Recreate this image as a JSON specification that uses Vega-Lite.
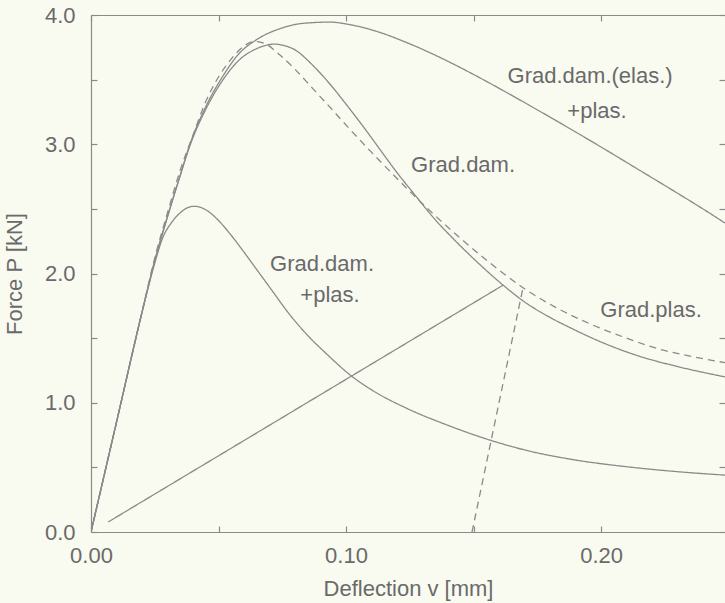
{
  "$schema": "https://vega.github.io/schema/vega-lite/v6.json",
  "width": 634,
  "height": 517,
  "autosize": {"type": "none"},
  "padding": {"left": 91, "top": 15, "right": 0, "bottom": 71},
  "background": "#f9fbf1",
  "config": {
    "view": {"stroke": null},
    "font": "Liberation Sans",
    "axis": {
      "grid": false,
      "domainColor": "#8a8a8a",
      "domainWidth": 1.2,
      "tickColor": "#8a8a8a",
      "tickWidth": 1.2,
      "labelColor": "#6a6a6a",
      "titleColor": "#6a6a6a",
      "labelFont": "Liberation Sans",
      "titleFont": "Liberation Sans",
      "labelFontSize": 22,
      "titleFontSize": 22,
      "titleFontWeight": "normal"
    }
  },
  "datasets": {
    "curves": [
      {"curve": "Grad.dam.(elas.)+plas.", "v": 0, "P": 0},
      {"curve": "Grad.dam.(elas.)+plas.", "v": 0.01, "P": 0.85},
      {"curve": "Grad.dam.(elas.)+plas.", "v": 0.02, "P": 1.70},
      {"curve": "Grad.dam.(elas.)+plas.", "v": 0.025, "P": 2.10},
      {"curve": "Grad.dam.(elas.)+plas.", "v": 0.03, "P": 2.44},
      {"curve": "Grad.dam.(elas.)+plas.", "v": 0.035, "P": 2.76},
      {"curve": "Grad.dam.(elas.)+plas.", "v": 0.0388, "P": 3.0},
      {"curve": "Grad.dam.(elas.)+plas.", "v": 0.045, "P": 3.29},
      {"curve": "Grad.dam.(elas.)+plas.", "v": 0.0518, "P": 3.53},
      {"curve": "Grad.dam.(elas.)+plas.", "v": 0.058, "P": 3.70},
      {"curve": "Grad.dam.(elas.)+plas.", "v": 0.065, "P": 3.81},
      {"curve": "Grad.dam.(elas.)+plas.", "v": 0.075, "P": 3.90},
      {"curve": "Grad.dam.(elas.)+plas.", "v": 0.083, "P": 3.935},
      {"curve": "Grad.dam.(elas.)+plas.", "v": 0.0937, "P": 3.945},
      {"curve": "Grad.dam.(elas.)+plas.", "v": 0.1016, "P": 3.925},
      {"curve": "Grad.dam.(elas.)+plas.", "v": 0.1133, "P": 3.865},
      {"curve": "Grad.dam.(elas.)+plas.", "v": 0.124, "P": 3.785},
      {"curve": "Grad.dam.(elas.)+plas.", "v": 0.137, "P": 3.67},
      {"curve": "Grad.dam.(elas.)+plas.", "v": 0.15, "P": 3.54},
      {"curve": "Grad.dam.(elas.)+plas.", "v": 0.163, "P": 3.40},
      {"curve": "Grad.dam.(elas.)+plas.", "v": 0.176, "P": 3.255},
      {"curve": "Grad.dam.(elas.)+plas.", "v": 0.19, "P": 3.095},
      {"curve": "Grad.dam.(elas.)+plas.", "v": 0.202, "P": 2.955},
      {"curve": "Grad.dam.(elas.)+plas.", "v": 0.215, "P": 2.80},
      {"curve": "Grad.dam.(elas.)+plas.", "v": 0.228, "P": 2.645},
      {"curve": "Grad.dam.(elas.)+plas.", "v": 0.2455, "P": 2.43},
      {"curve": "Grad.dam.(elas.)+plas.", "v": 0.2486, "P": 2.39},

      {"curve": "Grad.dam.", "v": 0, "P": 0},
      {"curve": "Grad.dam.", "v": 0.01, "P": 0.85},
      {"curve": "Grad.dam.", "v": 0.02, "P": 1.70},
      {"curve": "Grad.dam.", "v": 0.025, "P": 2.10},
      {"curve": "Grad.dam.", "v": 0.03, "P": 2.44},
      {"curve": "Grad.dam.", "v": 0.035, "P": 2.76},
      {"curve": "Grad.dam.", "v": 0.0388, "P": 2.99},
      {"curve": "Grad.dam.", "v": 0.045, "P": 3.27},
      {"curve": "Grad.dam.", "v": 0.0518, "P": 3.50},
      {"curve": "Grad.dam.", "v": 0.058, "P": 3.65},
      {"curve": "Grad.dam.", "v": 0.065, "P": 3.74},
      {"curve": "Grad.dam.", "v": 0.072, "P": 3.775},
      {"curve": "Grad.dam.", "v": 0.0741, "P": 3.77},
      {"curve": "Grad.dam.", "v": 0.08, "P": 3.73},
      {"curve": "Grad.dam.", "v": 0.087, "P": 3.61},
      {"curve": "Grad.dam.", "v": 0.0935, "P": 3.47},
      {"curve": "Grad.dam.", "v": 0.1004, "P": 3.30},
      {"curve": "Grad.dam.", "v": 0.107, "P": 3.13},
      {"curve": "Grad.dam.", "v": 0.1133, "P": 2.96},
      {"curve": "Grad.dam.", "v": 0.12, "P": 2.78},
      {"curve": "Grad.dam.", "v": 0.1263, "P": 2.625},
      {"curve": "Grad.dam.", "v": 0.1357, "P": 2.40},
      {"curve": "Grad.dam.", "v": 0.141, "P": 2.29},
      {"curve": "Grad.dam.", "v": 0.15, "P": 2.115},
      {"curve": "Grad.dam.", "v": 0.1616, "P": 1.91},
      {"curve": "Grad.dam.", "v": 0.17, "P": 1.78},
      {"curve": "Grad.dam.", "v": 0.18, "P": 1.66},
      {"curve": "Grad.dam.", "v": 0.189, "P": 1.57},
      {"curve": "Grad.dam.", "v": 0.2, "P": 1.47},
      {"curve": "Grad.dam.", "v": 0.215, "P": 1.36},
      {"curve": "Grad.dam.", "v": 0.23, "P": 1.28},
      {"curve": "Grad.dam.", "v": 0.2486, "P": 1.20},

      {"curve": "Grad.plas.", "v": 0, "P": 0},
      {"curve": "Grad.plas.", "v": 0.01, "P": 0.85},
      {"curve": "Grad.plas.", "v": 0.02, "P": 1.70},
      {"curve": "Grad.plas.", "v": 0.025, "P": 2.12},
      {"curve": "Grad.plas.", "v": 0.03, "P": 2.47},
      {"curve": "Grad.plas.", "v": 0.035, "P": 2.80},
      {"curve": "Grad.plas.", "v": 0.04, "P": 3.07},
      {"curve": "Grad.plas.", "v": 0.045, "P": 3.33},
      {"curve": "Grad.plas.", "v": 0.05, "P": 3.52},
      {"curve": "Grad.plas.", "v": 0.055, "P": 3.66},
      {"curve": "Grad.plas.", "v": 0.06, "P": 3.76},
      {"curve": "Grad.plas.", "v": 0.064, "P": 3.795},
      {"curve": "Grad.plas.", "v": 0.068, "P": 3.78},
      {"curve": "Grad.plas.", "v": 0.0741, "P": 3.69},
      {"curve": "Grad.plas.", "v": 0.08, "P": 3.58},
      {"curve": "Grad.plas.", "v": 0.087, "P": 3.43},
      {"curve": "Grad.plas.", "v": 0.094, "P": 3.28},
      {"curve": "Grad.plas.", "v": 0.1004, "P": 3.14},
      {"curve": "Grad.plas.", "v": 0.107, "P": 3.00},
      {"curve": "Grad.plas.", "v": 0.1133, "P": 2.87},
      {"curve": "Grad.plas.", "v": 0.12, "P": 2.735},
      {"curve": "Grad.plas.", "v": 0.1263, "P": 2.61},
      {"curve": "Grad.plas.", "v": 0.134, "P": 2.465},
      {"curve": "Grad.plas.", "v": 0.145, "P": 2.27},
      {"curve": "Grad.plas.", "v": 0.155, "P": 2.105},
      {"curve": "Grad.plas.", "v": 0.1694, "P": 1.89},
      {"curve": "Grad.plas.", "v": 0.182, "P": 1.74},
      {"curve": "Grad.plas.", "v": 0.1957, "P": 1.61},
      {"curve": "Grad.plas.", "v": 0.21, "P": 1.50},
      {"curve": "Grad.plas.", "v": 0.222, "P": 1.42},
      {"curve": "Grad.plas.", "v": 0.235, "P": 1.36},
      {"curve": "Grad.plas.", "v": 0.2486, "P": 1.31},

      {"curve": "Grad.dam.+plas.", "v": 0, "P": 0},
      {"curve": "Grad.dam.+plas.", "v": 0.01, "P": 0.85},
      {"curve": "Grad.dam.+plas.", "v": 0.02, "P": 1.70},
      {"curve": "Grad.dam.+plas.", "v": 0.025, "P": 2.08},
      {"curve": "Grad.dam.+plas.", "v": 0.028, "P": 2.27},
      {"curve": "Grad.dam.+plas.", "v": 0.0318, "P": 2.40},
      {"curve": "Grad.dam.+plas.", "v": 0.035, "P": 2.47},
      {"curve": "Grad.dam.+plas.", "v": 0.038, "P": 2.51},
      {"curve": "Grad.dam.+plas.", "v": 0.0405, "P": 2.52},
      {"curve": "Grad.dam.+plas.", "v": 0.0432, "P": 2.51},
      {"curve": "Grad.dam.+plas.", "v": 0.0467, "P": 2.47},
      {"curve": "Grad.dam.+plas.", "v": 0.05, "P": 2.41},
      {"curve": "Grad.dam.+plas.", "v": 0.055, "P": 2.295},
      {"curve": "Grad.dam.+plas.", "v": 0.06, "P": 2.165},
      {"curve": "Grad.dam.+plas.", "v": 0.065, "P": 2.03},
      {"curve": "Grad.dam.+plas.", "v": 0.07, "P": 1.895},
      {"curve": "Grad.dam.+plas.", "v": 0.078, "P": 1.68},
      {"curve": "Grad.dam.+plas.", "v": 0.085, "P": 1.52},
      {"curve": "Grad.dam.+plas.", "v": 0.092, "P": 1.385},
      {"curve": "Grad.dam.+plas.", "v": 0.1016, "P": 1.215},
      {"curve": "Grad.dam.+plas.", "v": 0.11, "P": 1.10},
      {"curve": "Grad.dam.+plas.", "v": 0.124, "P": 0.955},
      {"curve": "Grad.dam.+plas.", "v": 0.14, "P": 0.825},
      {"curve": "Grad.dam.+plas.", "v": 0.155, "P": 0.72},
      {"curve": "Grad.dam.+plas.", "v": 0.17, "P": 0.635},
      {"curve": "Grad.dam.+plas.", "v": 0.189, "P": 0.56},
      {"curve": "Grad.dam.+plas.", "v": 0.21, "P": 0.505},
      {"curve": "Grad.dam.+plas.", "v": 0.228, "P": 0.47},
      {"curve": "Grad.dam.+plas.", "v": 0.2486, "P": 0.44},

      {"curve": "Secant", "v": 0.0067, "P": 0.077},
      {"curve": "Secant", "v": 0.1616, "P": 1.91},

      {"curve": "Grad.plas. unloading", "v": 0.1494, "P": 0},
      {"curve": "Grad.plas. unloading", "v": 0.1694, "P": 1.89}
    ],
    "labels": [
      {"text": "Grad.dam.(elas.)", "v": 0.1957, "P": 3.53},
      {"text": "+plas.", "v": 0.1984, "P": 3.26},
      {"text": "Grad.dam.", "v": 0.1459, "P": 2.84},
      {"text": "Grad.dam.", "v": 0.0906, "P": 2.07},
      {"text": "+plas.", "v": 0.0937, "P": 1.83},
      {"text": "Grad.plas.", "v": 0.2196, "P": 1.72}
    ]
  },
  "layer": [
    {
      "data": {"name": "curves"},
      "mark": {"type": "line", "interpolate": "monotone", "strokeWidth": 1.3, "color": "#8a8a8a", "clip": true},
      "encoding": {
        "x": {
          "field": "v", "type": "quantitative",
          "scale": {"domain": [0, 0.2486], "nice": false, "zero": false},
          "axis": {
            "orient": "bottom",
            "title": "Deflection v [mm]",
            "values": [0, 0.05, 0.1, 0.15, 0.2],
            "labelExpr": "round(datum.value * 20) % 2 == 0 ? format(datum.value, '.2f') : ''",
            "tickSize": -6,
            "labelPadding": 19,
            "titlePadding": 12,
            "labelFlush": false,
            "labelOverlap": false
          }
        },
        "y": {
          "field": "P", "type": "quantitative",
          "scale": {"domain": [0, 4], "nice": false},
          "axis": {
            "orient": "left",
            "title": "Force P [kN]",
            "values": [0, 0.5, 1, 1.5, 2, 2.5, 3, 3.5, 4],
            "labelExpr": "round(datum.value * 2) % 2 == 0 ? format(datum.value, '.1f') : ''",
            "tickSize": -6,
            "labelPadding": 22,
            "titlePadding": 18,
            "labelFlush": false,
            "labelOverlap": false
          }
        },
        "detail": {"field": "curve", "type": "nominal"},
        "strokeDash": {
          "field": "curve", "type": "nominal",
          "scale": {
            "domain": ["Grad.dam.(elas.)+plas.", "Grad.dam.", "Grad.plas.", "Grad.dam.+plas.", "Secant", "Grad.plas. unloading"],
            "range": [[1, 0], [1, 0], [7, 5], [1, 0], [1, 0], [7, 5]]
          },
          "legend": null
        }
      }
    },
    {
      "data": {"name": "labels"},
      "mark": {"type": "text", "font": "Liberation Sans", "fontSize": 22, "color": "#6a6a6a", "align": "center", "baseline": "middle"},
      "encoding": {
        "x": {
          "field": "v", "type": "quantitative",
          "axis": {
            "orient": "top", "title": null, "labels": false,
            "values": [0, 0.05, 0.1, 0.15, 0.2], "tickSize": -6
          }
        },
        "y": {
          "field": "P", "type": "quantitative",
          "axis": {
            "orient": "right", "title": null, "labels": false, "domain": false,
            "values": [0, 0.5, 1, 1.5, 2, 2.5, 3, 3.5, 4], "tickSize": -6
          }
        },
        "text": {"field": "text"}
      }
    }
  ],
  "resolve": {"axis": {"x": "independent", "y": "independent"}}
}
